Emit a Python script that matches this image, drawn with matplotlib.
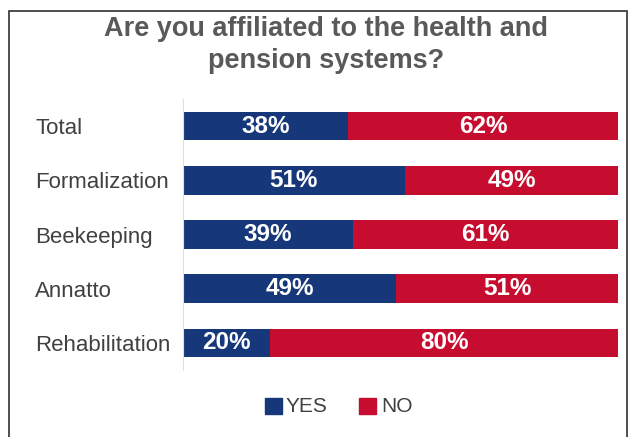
import matplotlib.pyplot as plt
from matplotlib.patches import Rectangle

plt.rcParams['font.family'] = ['Liberation Sans', 'DejaVu Sans']

categories = ["Total", "Formalization", "Beekeeping", "Annatto", "Rehabilitation"]
yes_pct = [38, 51, 39, 49, 20]
no_pct = [62, 49, 61, 51, 80]

blue = "#17377b"
red = "#c70d2f"
grey = "#404040"

fig = plt.figure(figsize=(6.33, 4.37), dpi=100)
ax = fig.add_axes([183 / 633, 1 - 370 / 437, 435 / 633, 271 / 437])

y = list(range(len(categories)))
ax.barh(y, yes_pct, height=0.53, color=blue)
ax.barh(y, no_pct, left=yes_pct, height=0.53, color=red)

for i in y:
    ax.text(yes_pct[i] / 2, i, f"{yes_pct[i]}%", color="white", fontsize=17.5,
            fontweight="bold", ha="center", va="center")
    ax.text(yes_pct[i] + no_pct[i] / 2, i, f"{no_pct[i]}%", color="white",
            fontsize=17.5, fontweight="bold", ha="center", va="center")

ax.set_xlim(0, 100)
ax.set_ylim(4.5, -0.5)
ax.set_yticks(y)
ax.set_yticklabels(categories, fontsize=16, color=grey, ha="left")
ax.set_xticks([])
# pad in points: labels start 148 px left of the axis
ax.tick_params(axis="y", length=0, pad=148 * 0.72)
for side in ["top", "right", "bottom"]:
    ax.spines[side].set_visible(False)
ax.spines["left"].set_color("#e0e0e0")

fig.text(326 / 633, 1 - 45 / 437, "Are you affiliated to the health and\npension systems?",
         ha="center", va="center", fontsize=19.5, fontweight="bold",
         color="#595959", linespacing=1.3)

# legend
fig.patches.append(Rectangle((265 / 633, 1 - 414 / 437), 17 / 633, 16 / 437,
                             transform=fig.transFigure, color=blue))
fig.text(286 / 633, 1 - 406 / 437, "YES", fontsize=15, color=grey, va="center")
fig.patches.append(Rectangle((359 / 633, 1 - 414 / 437), 17 / 633, 16 / 437,
                             transform=fig.transFigure, color=red))
fig.text(381 / 633, 1 - 406 / 437, "NO", fontsize=15, color=grey, va="center")

# outer frame
fig.patches.append(Rectangle((9 / 633, -0.05), 618 / 633, 1.05 - 11 / 437,
                             transform=fig.transFigure, fill=False,
                             edgecolor="#303030", linewidth=1.2))

fig.savefig("out.png", dpi=100)
